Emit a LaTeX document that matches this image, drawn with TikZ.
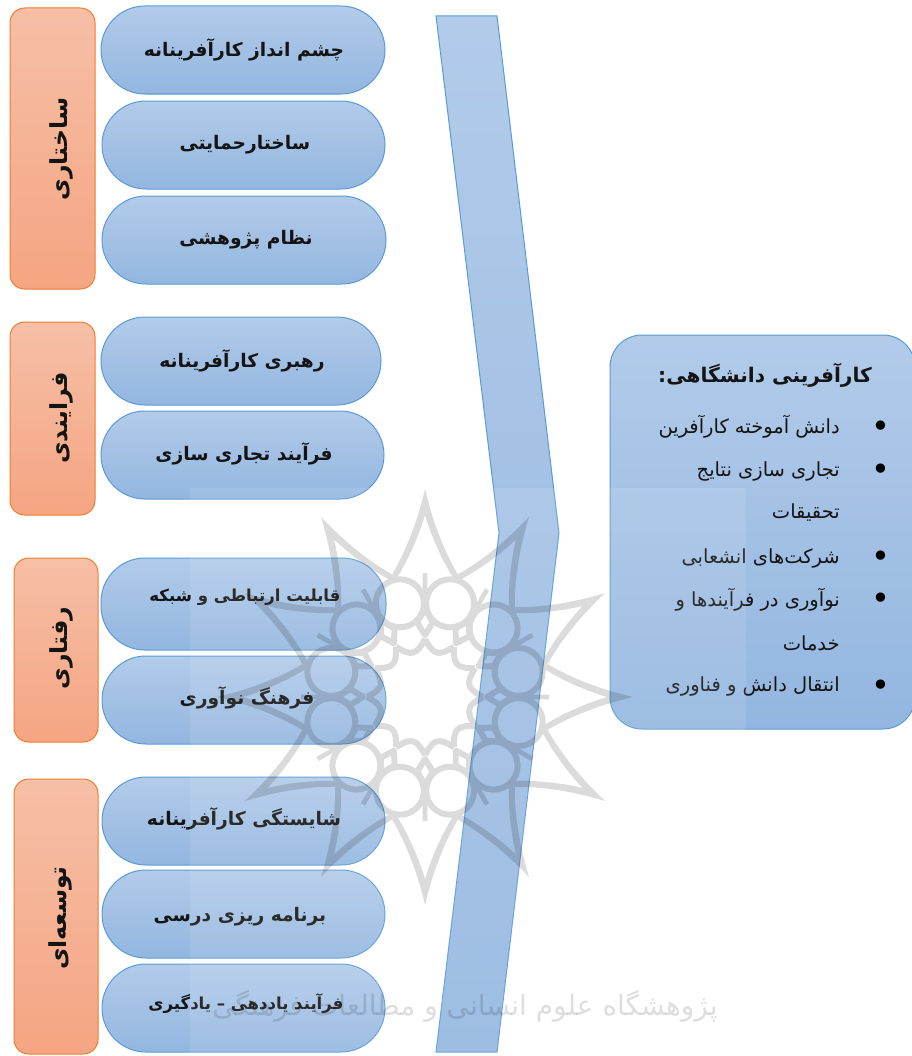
\documentclass[tikz,border=0pt]{standalone}
\usepackage{fontspec}
\setmainfont{DejaVu Sans}
\newfontfamily\arabicfont[Script=Arabic]{DejaVu Sans}
\TeXXeTstate=1
\definecolor{bluetop}{HTML}{B2CBE9}
\definecolor{bluebot}{HTML}{93B6E0}
\definecolor{blueline}{HTML}{5B9BD5}
\definecolor{orangetop}{HTML}{F6BFA6}
\definecolor{orangebot}{HTML}{F5A582}
\definecolor{orangeline}{HTML}{ED7D31}
\definecolor{inktext}{HTML}{141414}
\tikzset{
  x=0.75pt,y=-0.75pt,
  bluefill/.style={draw=blueline,line width=0.75pt,top color=bluetop,bottom color=bluebot},
  pillbox/.style={bluefill,rectangle,rounded corners=33pt,inner sep=0pt},
  orangebox/.style={draw=orangeline,line width=0.75pt,top color=orangetop,bottom color=orangebot,rectangle,rounded corners=11pt,inner sep=0pt},
  pilltext/.style={inner sep=0pt,text=inktext,font=\arabicfont\fontsize{14pt}{17pt}\selectfont\bfseries},
  smalltext/.style={pilltext,font=\arabicfont\fontsize{12.4pt}{15pt}\selectfont\bfseries},
  sidetext/.style={inner sep=0pt,text=inktext,rotate=90,font=\arabicfont\fontsize{17.6pt}{20pt}\selectfont\bfseries},
  itemtext/.style={inner sep=0pt,anchor=east,text=inktext,font=\arabicfont\fontsize{14.6pt}{17pt}\selectfont},
  bulletmark/.style={inner sep=0pt,text=black,font=\fontsize{24pt}{24pt}\selectfont},
  rosetteline/.style={draw=black,line width=4.5pt},
}
% style, name, x0,y0,x1,y1
\newcommand{\bx}[6]{%
  \pgfmathsetlengthmacro{\bw}{(#5-#3)*0.75pt}%
  \pgfmathsetlengthmacro{\bh}{(#6-#4)*0.75pt}%
  \node[#1,minimum width=\bw,minimum height=\bh] (#2) at ({(#3+#5)/2},{(#4+#6)/2}) {};}
\begin{document}
\begin{tikzpicture}
\useasboundingbox (0,0) rectangle (911,1056);
\fill[white] (0,0) rectangle (911,1056);
% orange panels
\bx{orangebox}{o1}{10}{8}{95}{289}
\bx{orangebox}{o2}{10}{322}{95}{515}
\bx{orangebox}{o3}{14}{558}{98}{742}
\bx{orangebox}{o4}{14}{779}{98}{1054}
\node[sidetext] (o1t) at (61,149) {\beginR ساختاری\endR};
\node[sidetext] (o2t) at (61,418) {\beginR فرایندی\endR};
\node[sidetext] (o3t) at (61,648) {\beginR رفتاری\endR};
\node[sidetext] (o4t) at (60,918) {\beginR توسعه‌ای\endR};
% pills
\bx{pillbox}{p1}{101}{6}{385}{94}
\bx{pillbox}{p2}{102}{101}{385}{189}
\bx{pillbox}{p3}{102}{196}{386}{284}
\bx{pillbox}{p4}{101}{317}{381}{405}
\bx{pillbox}{p5}{101}{411}{384}{499}
\bx{pillbox}{p6}{101}{558}{386}{650}
\bx{pillbox}{p7}{102}{656}{386}{744}
\bx{pillbox}{p8}{102}{777}{385}{865}
\bx{pillbox}{p9}{102}{870}{385}{958}
\bx{pillbox}{p10}{102}{964}{385}{1052}
\node[pilltext] (p1t) at (244,50) {\beginR چشم انداز کارآفرینانه\endR};
\node[pilltext] (p2t) at (245,145) {\beginR ساختارحمایتی\endR};
\node[pilltext] (p3t) at (246,240) {\beginR نظام پژوهشی\endR};
\node[pilltext] (p4t) at (242,361) {\beginR رهبری کارآفرینانه\endR};
\node[pilltext] (p5t) at (244,454) {\beginR فرآیند تجاری سازی\endR};
\node[smalltext] (p6t) at (245,597) {\beginR قابلیت ارتباطی و شبکه\endR};
\node[pilltext] (p7t) at (247,698) {\beginR فرهنگ نوآوری\endR};
\node[pilltext] (p8t) at (244,819) {\beginR شایستگی کارآفرینانه\endR};
\node[pilltext] (p9t) at (240,917) {\beginR برنامه ریزی درسی\endR};
\node[smalltext] (p10t) at (246,1004) {\beginR فرآیند یاددهی – یادگیری\endR};
% chevron
\draw[bluefill] (436,16) -- (497,16) -- (559,533) -- (497,1052) -- (436,1052) -- (499,533) -- cycle;
% result panel
\node[pillbox,rounded corners=24pt,minimum width=228.75pt,minimum height=295.5pt] (res) at (762.5,532) {};
\node[inner sep=0pt,text=inktext,font=\arabicfont\fontsize{15.1pt}{18pt}\selectfont\bfseries] (title) at (765,375) {\beginR کارآفرینی دانشگاهی:\endR};
\node[itemtext] (i1) at (840,427) {\beginR دانش آموخته کارآفرین\endR};
\node[itemtext] (i2) at (840,471) {\beginR تجاری سازی نتایج\endR};
\node[itemtext] (i2b) at (840,513) {\beginR تحقیقات\endR};
\node[itemtext] (i3) at (840,558) {\beginR شرکت‌های انشعابی\endR};
\node[itemtext] (i4) at (840,600) {\beginR نوآوری در فرآیندها و\endR};
\node[itemtext] (i4b) at (840,643) {\beginR خدمات\endR};
\node[itemtext] (i5) at (840,686) {\beginR انتقال دانش و فناوری\endR};
\foreach \yy/\nm in {429/b1,472/b2,559/b3,601/b4,688/b5}
  \node[bulletmark] (\nm) at (881,\yy) {•};
% watermark: pale sheet
\fill[white,opacity=0.1] (190,488) rectangle (746,1056);
% watermark: rosette
\begin{scope}[shift={(425,697)},transparency group,opacity=0.14]
\foreach \a in {0,30,...,330}{
  \fill[black] (\a:208)
    .. controls (\a+3:170) and (\a+9:142) .. (\a+15:127)
    -- (\a+15:119)
    .. controls (\a+9:132) and (\a+3:155) .. (\a:182)
    .. controls (\a-3:155) and (\a-9:132) .. (\a-15:119)
    -- (\a-15:127)
    .. controls (\a-9:142) and (\a-3:170) .. (\a:208) -- cycle;
  \draw[rosetteline] (\a+15:97) circle[radius=24];
  \draw[rosetteline,line join=round] (\a:62) -- (\a+6:75) -- (\a:88) -- (\a-6:75) -- cycle;
  \draw[rosetteline,line width=3.5pt] (\a:88) -- (\a:124);
  \draw[rosetteline,line join=round] (\a:58) .. controls (\a+5:50) and (\a+10:46) .. (\a+15:46)
     .. controls (\a+20:46) and (\a+25:50) .. (\a+30:58);
}
\end{scope}
\node[inner sep=0pt,text=black,opacity=0.13,font=\arabicfont\fontsize{21pt}{24pt}\selectfont] (wm) at (465,1006) {\beginR پژوهشگاه علوم انسانی و مطالعات فرهنگی\endR};
\end{tikzpicture}
\end{document}
